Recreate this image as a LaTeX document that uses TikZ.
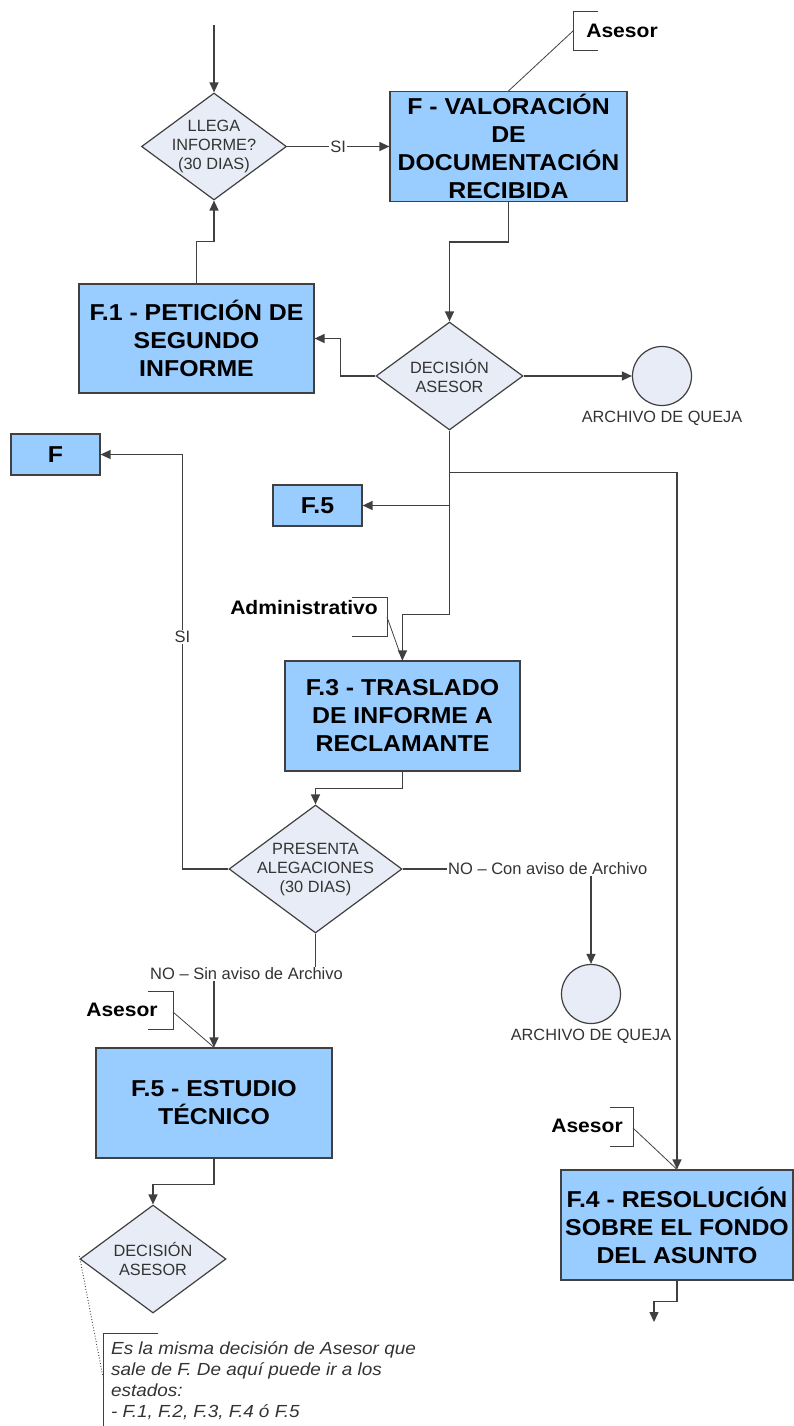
\documentclass[tikz,border=0pt]{standalone}
\usepackage{fontspec}
\setmainfont{Liberation Sans}
\newfontfamily\widefont[FakeStretch = 1.08]{Liberation Sans}
\usetikzlibrary{shapes.geometric,arrows.meta,calc}

\definecolor{boxblue}{HTML}{99CCFF}
\definecolor{decfill}{HTML}{E8ECF6}
\definecolor{edgegray}{HTML}{404040}

\tikzset{
    state/.style = {draw = edgegray, line width = 1.2pt, fill = boxblue, align = center, inner sep = 0pt, font = \widefont\fontsize{23}{28}\selectfont\bfseries},
    smallstate/.style = {state, minimum width = 89pt, minimum height = 41pt},
    bigstate/.style = {state, minimum width = 235pt, minimum height = 110pt},
    decision/.style = {diamond, draw = edgegray, line width = 1.2pt, fill = decfill, inner sep = 0pt, minimum width = 146pt, minimum height = 108pt},
    dectext/.style = {align = center, inner sep = 0pt, font = \fontsize{16.3}{19}\selectfont, text = black!80},
    archive/.style = {circle, draw = edgegray, line width = 1.2pt, fill = decfill, minimum size = 59pt, inner sep = 0pt},
    archtext/.style = {inner sep = 0pt, font = \fontsize{16.3}{18}\selectfont, text = black!80},
    flow/.style = {draw = edgegray, line width = 1.3pt},
    arr/.style = {flow, -{Triangle[length = 10pt, width = 9pt]}},
    edgelabel/.style = {fill = white, inner sep = 1pt, font = \fontsize{16.5}{19}\selectfont, text = black!80},
    role/.style = {inner sep = 0pt, font = \widefont\fontsize{19.5}{22}\selectfont\bfseries},
    bracket/.style = {draw = edgegray, line width = 1pt},
    tie/.style = {draw = edgegray, line width = 0.8pt}
}

\begin{document}
\begin{tikzpicture}[x = 1pt, y = -1pt]
    \useasboundingbox (0, 0) rectangle (794, 1426);

    % estados
    \node[bigstate, minimum width = 237pt] (val) at (508.5, 146.5) {F - VALORACIÓN\\DE\\DOCUMENTACIÓN\\RECIBIDA};
    \node[bigstate, minimum height = 109pt] (f1) at (196.5, 338.5) {F.1 - PETICIÓN DE\\SEGUNDO\\INFORME};
    \node[bigstate] (f3) at (402.5, 716) {F.3 - TRASLADO\\DE INFORME A\\RECLAMANTE};
    \node[bigstate, minimum width = 236pt] (f5e) at (214, 1103) {F.5 - ESTUDIO\\TÉCNICO};
    \node[bigstate, minimum width = 232pt] (f4) at (677, 1225) {F.4 - RESOLUCIÓN\\SOBRE EL FONDO\\DEL ASUNTO};
    \node[smallstate] (fF) at (55.5, 454.5) {F};
    \node[smallstate] (f5s) at (317.5, 505.5) {F.5};

    % decisiones
    \node[decision, minimum width = 145pt, minimum height = 107pt, label = {[dectext]center:{LLEGA\\INFORME?\\(30 DIAS)}}] (d1) at (214, 146.5) {};
    \node[decision, minimum width = 147pt, label = {[dectext]center:{DECISIÓN\\ASESOR}}] (d2) at (449.5, 376) {};
    \node[decision, minimum width = 173pt, minimum height = 128pt, label = {[dectext]center:{PRESENTA\\ALEGACIONES\\(30 DIAS)}}] (d3) at (315.5, 869) {};
    \node[decision, label = {[dectext]center:{DECISIÓN\\ASESOR}}] (d4) at (153, 1259) {};

    % archivo
    \node[archive, label = {[archtext, label distance = 5pt]below:ARCHIVO DE QUEJA}] (arch1) at (662, 376) {};
    \node[archive, label = {[archtext, label distance = 5pt]below:ARCHIVO DE QUEJA}] (arch2) at (591, 994) {};

    % etiquetas de salida
    \node[edgelabel, anchor = west] (noc) at (447, 869) {NO -- Con aviso de Archivo};
    \node[edgelabel] (nos) at (246.5, 974) {NO -- Sin aviso de Archivo};

    % flechas
    \coordinate (start) at (214, 25);
    \coordinate (endc) at (654, 1322);
    \draw[arr] (start) -- (d1.north);
    \draw[arr] (d1.east) -- node[edgelabel] {SI} (val.west);
    \draw[arr] (val.south) -- ++(0, 40) -| (d2.north);
    \draw[arr] (d2.east) -- (arch1.west);
    \draw[arr] (d2.west) -- ++(-35, 0) |- (f1.east);
    \draw[arr] (f1.north) -- ++(0, -42) -| (d1.south);
    \draw[arr] (d2.south) -- ++(0, 42) -| (f4.north);
    \draw[arr] (d2.south |- f5s.east) -- (f5s.east);
    \draw[arr] (d2.south) -- ++(0, 184) -| (f3.north);
    \draw[arr] (f3.south) -- ++(0, 17) -| (d3.north);
    \draw[arr] (d3.west) -- ++(-46, 0) |- node[edgelabel, pos = 0.28] {SI} (fF.east);
    \draw[flow] (d3.east) -- (noc.west);
    \draw[arr] (noc.south -| arch2.north) -- (arch2.north);
    \draw[flow] (d3.south) -- (d3.south |- nos.north);
    \draw[arr] (nos.south -| f5e.north) -- (f5e.north);
    \draw[arr] (f5e.south) -- ++(0, 26) -| (d4.north);
    \draw[arr] (f4.south) -- ++(0, 21) -| (endc);

    % responsables
    \node[role] (as1) at (622, 31) {Asesor};
    \coordinate (as1b) at (573, 31);
    \draw[bracket] (598, 12) -| (573, 51) -- (598, 51);
    \draw[tie] (as1b) -- (val.north);

    \node[role] (adm) at (304, 608) {Administrativo};
    \coordinate (admb) at (387, 617);
    \draw[bracket] (352, 597) -| (387, 636) -- (352, 636);
    \draw[tie] (admb) -- (f3.north);

    \node[role] (as3) at (122, 1010) {Asesor};
    \coordinate (as3b) at (173, 1012);
    \draw[bracket] (148, 991) -| (173, 1029) -- (148, 1029);
    \draw[tie] (as3b) -- (f5e.north);

    \node[role] (as4) at (587, 1126) {Asesor};
    \coordinate (as4b) at (633, 1128);
    \draw[bracket] (610, 1107) -| (633, 1146) -- (610, 1146);
    \draw[tie] (as4b) -- (f4.north);

    % nota
    \coordinate (noteb) at (103, 1377);
    \draw[bracket] (158, 1333) -| (103, 1430);
    \draw[tie, dotted, line width = 1pt] ([yshift = 3pt]d4.west) -- (noteb);
    \node[anchor = north west, align = left, inner sep = 0pt, font = \widefont\fontsize{17.5}{21}\selectfont\itshape, text = black!80] (note) at (111, 1341) {Es la misma decisión de Asesor que\\sale de F. De aquí puede ir a los\\estados:\\- F.1, F.2, F.3, F.4 ó F.5};
\end{tikzpicture}
\end{document}
